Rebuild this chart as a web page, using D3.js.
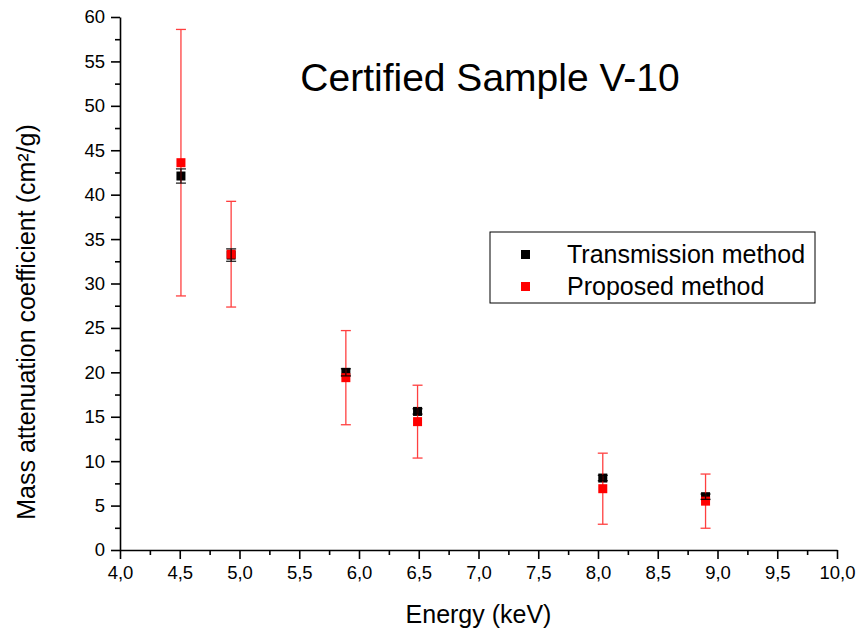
<!DOCTYPE html>
<meta charset="utf-8">
<html>
<head>
  <title>Certified Sample V-10</title>
  <script src="https://cdn.jsdelivr.net/npm/d3@7"></script>
  <style>
    body { margin: 0; background: #fff; font-family: "Liberation Sans", Arial, sans-serif; }
    .axis text { font-family: "Liberation Sans", Arial, sans-serif; font-size: 18.5px; fill: #000; }
    .axis path, .axis line { stroke: #000; stroke-width: 1.6px; }
  </style>
</head>
<body>
<div id="chart"></div>
<script>
  // energies (keV)
  var energy = [4.51, 4.93, 5.89, 6.49, 8.04, 8.90];
  // transmission method
  var transValue = [42.1, 33.2, 20.0, 15.6, 8.1, 6.0];
  var transErr   = [0.8, 0.7, 0.4, 0.3, 0.3, 0.3];
  // proposed method
  var propValue = [43.6, 33.3, 19.4, 14.45, 6.9, 5.5];
  var propErr   = [15.0, 5.95, 5.3, 4.1, 4.0, 3.05];

  var xTicks = [4.0, 4.5, 5.0, 5.5, 6.0, 6.5, 7.0, 7.5, 8.0, 8.5, 9.0, 9.5, 10.0];
  var yTicks = [0, 5, 10, 15, 20, 25, 30, 35, 40, 45, 50, 55, 60];

  var width = 858, height = 635;
  var plotLeft = 120, plotRight = 837, plotTop = 17, plotBottom = 550;

  var svg = d3.select("#chart").append("svg")
    .attr("width", width)
    .attr("height", height);

  var x = d3.scaleLinear().domain([4, 10]).range([plotLeft, plotRight]);
  var y = d3.scaleLinear().domain([0, 60]).range([plotBottom, plotTop]);

  var fmt = function(d) { return d3.format(".1f")(d).replace(".", ","); };

  // minor ticks first
  svg.append("g")
    .attr("class", "axis")
    .attr("transform", "translate(0," + plotBottom + ")")
    .call(d3.axisBottom(x).tickValues(d3.range(4.25, 10, 0.5)).tickSize(5).tickFormat(""))
    .select(".domain").remove();
  svg.append("g")
    .attr("class", "axis")
    .attr("transform", "translate(" + plotLeft + ",0)")
    .call(d3.axisLeft(y).tickValues(d3.range(2.5, 60, 5)).tickSize(5).tickFormat(""))
    .select(".domain").remove();

  // major ticks
  svg.append("g")
    .attr("class", "axis")
    .attr("transform", "translate(0," + plotBottom + ")")
    .call(d3.axisBottom(x).tickValues(xTicks).tickSize(9).tickSizeOuter(0).tickPadding(7).tickFormat(fmt));
  svg.append("g")
    .attr("class", "axis")
    .attr("transform", "translate(" + plotLeft + ",0)")
    .call(d3.axisLeft(y).tickValues(yTicks).tickSize(9).tickSizeOuter(0).tickPadding(6));

  // axis titles
  svg.append("text")
    .attr("x", (plotLeft + plotRight) / 2)
    .attr("y", 623)
    .attr("text-anchor", "middle")
    .style("font-size", "25px")
    .text("Energy (keV)");
  svg.append("text")
    .attr("transform", "translate(35," + 322 + ") rotate(-90)")
    .attr("text-anchor", "middle")
    .style("font-size", "25px")
    .text("Mass attenuation coefficient (cm²/g)");

  // title
  svg.append("text")
    .attr("x", 490)
    .attr("y", 91)
    .attr("text-anchor", "middle")
    .style("font-size", "39px")
    .text("Certified Sample V-10");

  var sq = 9, cap = 5;

  function errorBars(vals, errs, color, opacity) {
    var g = svg.append("g").attr("stroke", color).attr("stroke-width", 1.3).attr("opacity", opacity);
    energy.forEach(function(e, i) {
      var cx = x(e), y1 = y(vals[i] + errs[i]), y0 = y(vals[i] - errs[i]);
      g.append("line").attr("x1", cx).attr("x2", cx).attr("y1", y1).attr("y2", y0);
      g.append("line").attr("x1", cx - cap).attr("x2", cx + cap).attr("y1", y1).attr("y2", y1);
      g.append("line").attr("x1", cx - cap).attr("x2", cx + cap).attr("y1", y0).attr("y2", y0);
    });
  }

  function squares(vals, color) {
    svg.append("g").selectAll("rect")
      .data(vals)
      .enter()
      .append("rect")
      .attr("x", function(d, i) { return x(energy[i]) - sq / 2; })
      .attr("y", function(d) { return y(d) - sq / 2; })
      .attr("width", sq)
      .attr("height", sq)
      .attr("fill", color);
  }

  squares(transValue, "#000");
  squares(propValue, "#ff0000");
  errorBars(propValue, propErr, "#ff0000", 0.75);
  errorBars(transValue, transErr, "#000", 0.85);

  // legend
  var lg = svg.append("g").attr("transform", "translate(490,232)");
  lg.append("rect")
    .attr("width", 325).attr("height", 71)
    .attr("fill", "#fff").attr("stroke", "#000").attr("stroke-width", 1);
  var legendNames = ["Transmission method", "Proposed method"];
  var legendColors = ["#000", "#ff0000"];
  legendNames.forEach(function(name, i) {
    lg.append("rect")
      .attr("x", 35 - 4).attr("y", 22 + i * 32 - 4)
      .attr("width", 9).attr("height", 9)
      .attr("fill", legendColors[i]);
    lg.append("text")
      .attr("x", 77).attr("y", 22 + i * 32 + 9)
      .style("font-size", "25px")
      .text(name);
  });
</script>
</body>
</html>
